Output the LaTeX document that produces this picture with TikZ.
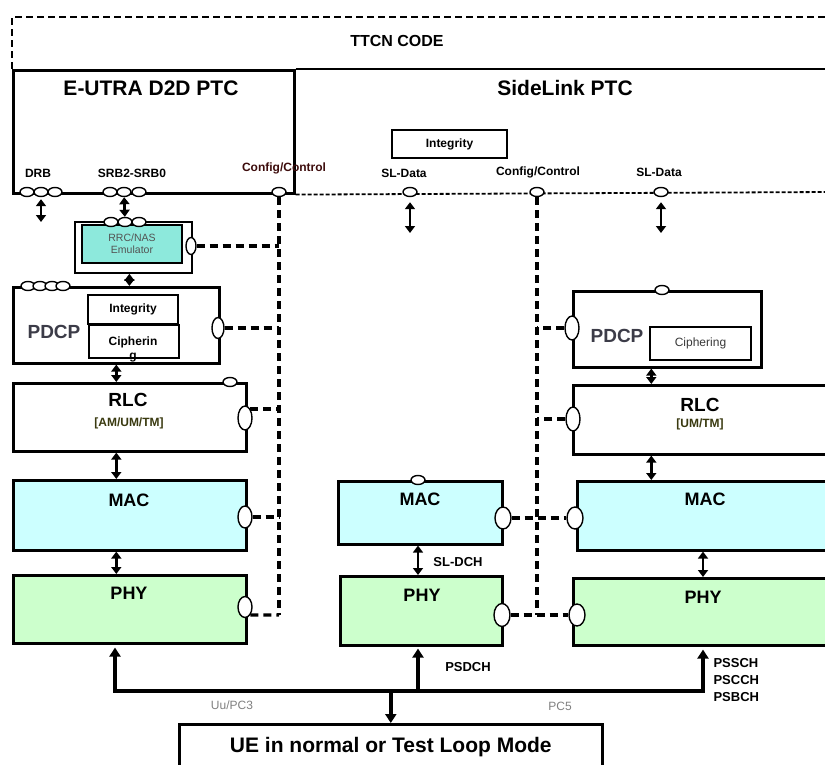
\documentclass[tikz,border=0pt]{standalone}
\usepackage{fontspec}
\setmainfont{Liberation Sans}
\usetikzlibrary{arrows.meta,
                positioning,
                shapes.geometric}
\definecolor{macfill}{HTML}{CCFFFF}
\definecolor{phyfill}{HTML}{CCFFCC}
\definecolor{rrcfill}{HTML}{8DE9DC}
\definecolor{cctext}{HTML}{3D0C0C}
\definecolor{pdcptext}{HTML}{3C3C48}
\definecolor{modetext}{HTML}{3A3A10}
\tikzset{
        box/.style={draw, line width=2.6pt, anchor=north west, inner sep=0pt},
        layer/.style={box, fill=white},
        maclayer/.style={box, fill=macfill},
        phylayer/.style={box, fill=phyfill},
        subbox/.style={draw, line width=2pt, fill=white, anchor=north west,
                       inner sep=0pt},
        port/.style={draw, ellipse, fill=white, line width=1.4pt,
                     minimum width=14pt, minimum height=9pt, inner sep=0pt},
        sideport/.style={port, minimum width=12pt, minimum height=21pt},
        ctrl/.style={line width=3.2pt, dash pattern=on 8pt off 5pt},
        sap/.style={{Triangle[width=10pt,length=7pt]}-{Triangle[width=10pt,length=7pt]},
                    line width=2.8pt},
        uptip/.style={-{Triangle[width=11pt,length=9pt]}, line width=3.4pt},
        ptctitle/.style={font=\bfseries\fontsize{21}{24}\selectfont},
        lyrtitle/.style={font=\bfseries\fontsize{18}{20}\selectfont},
        saplabel/.style={font=\bfseries\fontsize{12}{14}\selectfont},
        chlabel/.style={font=\bfseries\fontsize{13}{17}\selectfont},
        iflabel/.style={font=\fontsize{12}{14}\selectfont, text=gray},
 }
\begin{document}
\begin{tikzpicture}[x=1pt, y=-1pt]
    \useasboundingbox (0,0) rectangle (825,765);

    % TTCN code and the two PTCs
    \draw[line width=2.4pt, dash pattern=on 7pt off 4pt] (12,69) -- (12,17) -- (830,17);
    \node[font=\bfseries\fontsize{16}{18}\selectfont] (ttcn) at (397,41) {TTCN CODE};
    \node[box, minimum width=281, minimum height=123] (eutra) at (12,69) {};
    \draw[line width=2.6pt] (eutra.north east) -- (830,69);
    \draw[line width=1.8pt, dash pattern=on 4pt off 2pt] (eutra.south east) -- (830,192);
    \node[ptctitle] (eutral) at (151,88) {E-UTRA D2D PTC};
    \node[ptctitle] (sll) at (565,88) {SideLink PTC};
    \node[subbox, saplabel, minimum width=115, minimum height=28] (slint) at (391,129) {Integrity};

    % SAP labels and ports
    \node[saplabel] (drbl) at (38,173) {DRB};
    \node[saplabel] (srbl) at (132,173) {SRB2-SRB0};
    \node[saplabel, text=cctext] (ccl1) at (284,168) {Config/Control};
    \node[saplabel] (sldl1) at (404,173) {SL-Data};
    \node[saplabel] (ccl2) at (538,172) {Config/Control};
    \node[saplabel] (sldl2) at (659,172) {SL-Data};
    \foreach \px [count=\i] in {27,41,55}
        \node[port] (drb\i) at (\px,192) {};
    \foreach \px [count=\i] in {110,124,139}
        \node[port] (srb\i) at (\px,192) {};
    \node[port] (ccp1) at (279,192) {};
    \node[port] (sldp1) at (410,192) {};
    \node[port] (ccp2) at (537,192) {};
    \node[port] (sldp2) at (661,192) {};
    \coordinate (drbend) at (41,222);
    \coordinate (sldend1) at (410,233);
    \coordinate (sldend2) at (661,233);
    \draw[sap, shorten <=2pt] (drb2) -- (drbend);
    \draw[sap, shorten <=5pt] (sldp1) -- (sldend1);
    \draw[sap, shorten <=5pt] (sldp2) -- (sldend2);

    % RRC/NAS emulator
    \node[box, line width=1.8pt, minimum width=117, minimum height=51] (rrcbox) at (74,221) {};
    \node[draw, line width=2.6pt, fill=rrcfill, minimum width=100, minimum height=38,
          inner sep=0pt, align=center, text=gray!65!black,
          font=\fontsize{10.5}{12}\selectfont] (rrc) at (132,244) {RRC/NAS\\Emulator};
    \foreach \px [count=\i] in {111,125,139}
        \node[port] (rrcp\i) at (\px,222) {};
    \node[sideport, minimum width=10, minimum height=17] (rrcs) at (191,246) {};
    \draw[sap] (srb2) -- (rrcp2);

    % E-UTRA stack
    \node[layer, minimum width=206, minimum height=76] (pdcp1) at (12,286) {};
    \foreach \px [count=\i] in {28,40,52,63}
        \node[port] (pdcpp\i) at (\px,286) {};
    \node[font=\bfseries\fontsize{19}{22}\selectfont, text=pdcptext] (pdcpl1) at (54,332) {PDCP};
    \node[subbox, saplabel, minimum width=90, minimum height=29] (int1) at (87,294) {Integrity};
    \node[subbox, minimum width=90, minimum height=33] (ciph1) at (88,324) {};
    \node[saplabel, align=center] (ciphl1) at (133,349) {Cipherin\\g};
    \node[sideport] (pdcps1) at (218,328) {};

    \node[layer, minimum width=233, minimum height=68] (rlc1) at (12,382) {};
    \node[port] (rlct1) at (230,382) {};
    \node[sideport, minimum width=14, minimum height=24] (rlcs1) at (245,418) {};
    \node[font=\bfseries\fontsize{19}{22}\selectfont] (rlcl1) at (128,400) {RLC};
    \node[font=\bfseries\fontsize{12}{14}\selectfont, text=modetext] (rlcm1) at (129,423) {[AM/UM/TM]};

    \node[maclayer, minimum width=233, minimum height=70] (mac1) at (12,479) {};
    \node[lyrtitle] (macl1) at (129,500) {MAC};
    \node[sideport, minimum width=14, minimum height=22] (macs1) at (245,517) {};

    \node[phylayer, minimum width=233, minimum height=68] (phy1) at (12,574) {};
    \node[lyrtitle] (phyl1) at (129,593) {PHY};
    \node[sideport, minimum width=14, minimum height=21] (phys1) at (245,607) {};

    \draw[sap] ([xshift=-4pt]rrcbox.south) -- ([xshift=-4pt]rrcbox.south |- pdcp1.north);
    \draw[sap] (pdcp1.south) -- (pdcp1.south |- rlc1.north);
    \draw[sap] (rlc1.south -| pdcp1.south) -- (mac1.north -| pdcp1.south);
    \draw[sap] (mac1.south -| pdcp1.south) -- (phy1.north -| pdcp1.south);

    % E-UTRA config/control
    \coordinate (ccend1) at (279,615);
    \draw[ctrl] (ccp1) -- (ccend1);
    \draw[ctrl] (rrcs) -- (rrcs -| ccend1);
    \draw[ctrl] (pdcps1) -- (pdcps1 -| ccend1);
    \draw[ctrl] (rlcs1.north east) -- (rlcs1.north east -| ccend1);
    \draw[ctrl] (macs1) -- (macs1 -| ccend1);
    \draw[ctrl] (phys1.south east) -- (ccend1);

    % SideLink stacks
    \node[maclayer, minimum width=164, minimum height=63] (mac2) at (337,480) {};
    \node[port] (mact2) at (418,480) {};
    \node[lyrtitle] (macl2) at (420,499) {MAC};
    \node[sideport, minimum width=16, minimum height=22] (macs2) at (503,518) {};
    \node[phylayer, minimum width=162, minimum height=69] (phy2) at (339,575) {};
    \node[lyrtitle] (phyl2) at (422,595) {PHY};
    \node[sideport, minimum width=16, minimum height=23] (phys2) at (502,615) {};
    \draw[sap] (mac2.south -| mact2) -- (phy2.north -| mact2);
    \node[chlabel] (sldch) at (458,562) {SL-DCH};

    \node[layer, minimum width=188, minimum height=76] (pdcp3) at (572,290) {};
    \node[port] (pdcpt3) at (662,290) {};
    \node[sideport, minimum width=14, minimum height=24] (pdcps3) at (572,328) {};
    \node[font=\bfseries\fontsize{19}{22}\selectfont, text=pdcptext] (pdcpl3) at (617,336) {PDCP};
    \node[subbox, minimum width=101, minimum height=33, text=gray!45!black,
          font=\fontsize{12}{14}\selectfont] (ciph3) at (649,326) {Ciphering};

    \node[layer, minimum width=260, minimum height=69] (rlc3) at (572,384) {};
    \node[sideport, minimum width=14, minimum height=24] (rlcs3) at (573,419) {};
    \node[font=\bfseries\fontsize{19}{22}\selectfont] (rlcl3) at (700,405) {RLC};
    \node[font=\bfseries\fontsize{12}{14}\selectfont, text=modetext] (rlcm3) at (700,424) {[UM/TM]};

    \node[maclayer, minimum width=256, minimum height=69] (mac3) at (576,480) {};
    \node[lyrtitle] (macl3) at (705,499) {MAC};
    \node[sideport, minimum width=16, minimum height=22] (macs3) at (575,518) {};

    \node[phylayer, minimum width=260, minimum height=67] (phy3) at (572,577) {};
    \node[lyrtitle] (phyl3) at (703,597) {PHY};
    \node[sideport, minimum width=16, minimum height=22] (phys3) at (577,615) {};

    \draw[sap] ([xshift=-16pt]pdcp3.south) -- ([xshift=-16pt]pdcp3.south |- rlc3.north);
    \draw[sap] ([xshift=-16pt]pdcp3.south |- rlc3.south) -- ([xshift=-16pt]pdcp3.south |- mac3.north);
    \draw[sap] (mac3.south -| phyl3) -- (phy3.north -| phyl3);

    % SideLink config/control
    \coordinate (ccend2) at (537,615);
    \draw[ctrl] (ccp2) -- (ccend2);
    \draw[ctrl] (pdcps3) -- (pdcps3 -| ccend2);
    \draw[ctrl] (rlcs3) -- (rlcs3 -| ccend2);
    \draw[ctrl] (macs2) -- (macs3);
    \draw[ctrl] (phys2) -- (phys3);

    % air interface to the UE
    \node[box, minimum width=423, minimum height=46,
          font=\bfseries\fontsize{21}{24}\selectfont] (ue) at (178,723) {UE in normal or Test Loop Mode};
    \coordinate (busl) at (115,691);
    \coordinate (busr) at (703,691);
    \draw[line width=3.4pt, {Triangle[width=11pt,length=9pt]}-{Triangle[width=11pt,length=9pt]},
          shorten <=3pt, shorten >=3pt]
        (phy1.south -| busl) -- (busl) -- (busr) -- (phy3.south -| busr);
    \draw[uptip, shorten >=2pt] (mact2 |- busl) -- (mact2 |- phy2.south);
    \draw[uptip] (ue.north |- busl) -- (ue.north);
    \node[chlabel] (psdch) at (468,667) {PSDCH};
    \node[chlabel, anchor=west, align=left] (pssch) at (710,680) {PSSCH\\PSCCH\\PSBCH};
    \node[iflabel] (uul) at (232,705) {Uu/PC3};
    \node[iflabel] (pc5l) at (560,706) {PC5};
\end{tikzpicture}
\end{document}
